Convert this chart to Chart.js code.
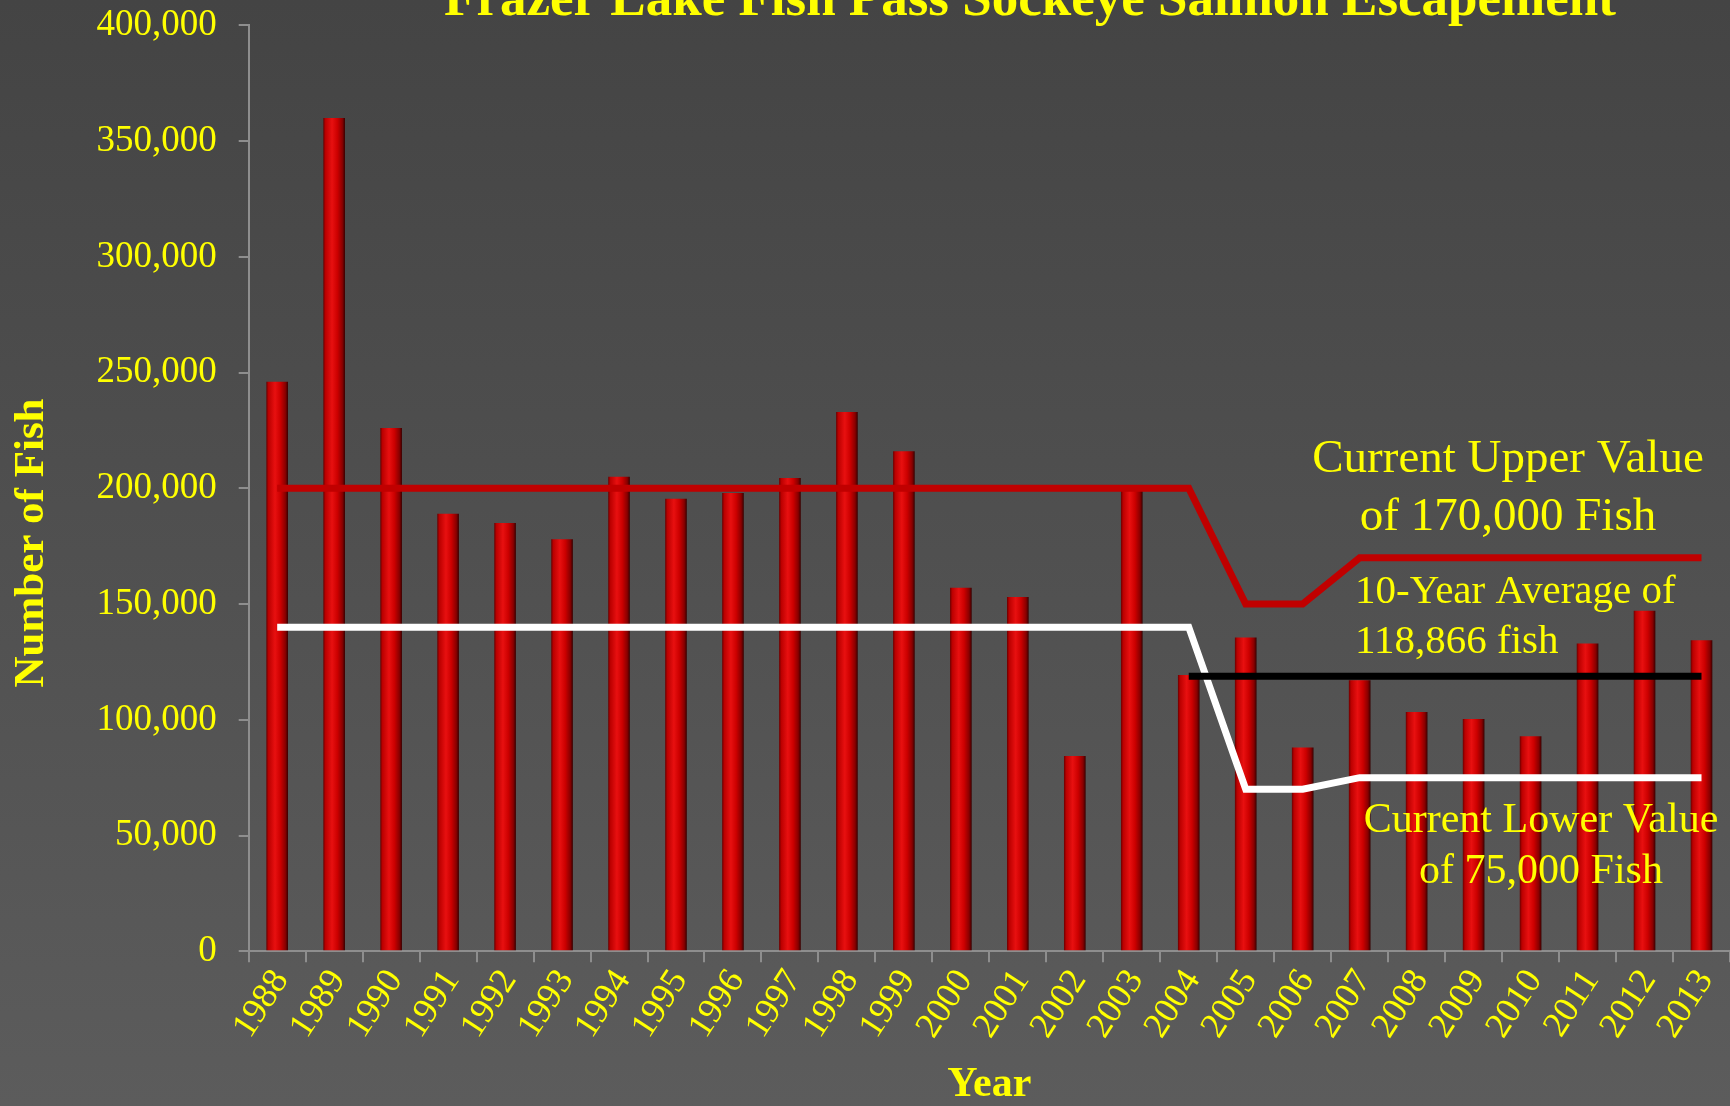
<!DOCTYPE html>
<html><head><meta charset="utf-8">
<script src="https://cdn.jsdelivr.net/npm/chart.js@4.4.1/dist/chart.umd.min.js"></script>
<style>
html,body{margin:0;padding:0;width:1730px;height:1106px;overflow:hidden;background:linear-gradient(to bottom,#444444 0%,#5c5c5c 100%);}
#wrap{position:absolute;left:0;top:0;width:1730px;height:1106px;}
canvas{display:block;}
</style></head><body>
<div id="wrap"><canvas id="c" width="1730" height="1106"></canvas></div>
<script>
const titleText = 'Frazer Lake Fish Pass Sockeye Salmon Escapement';
const yAxisTitle = 'Number of Fish';
const xAxisTitle = 'Year';
const years = ['1988','1989','1990','1991','1992','1993','1994','1995','1996','1997','1998','1999','2000','2001','2002','2003','2004','2005','2006','2007','2008','2009','2010','2011','2012','2013'];
const escapement = [246000,360000,226000,189000,185000,178000,205000,195500,198000,204500,233000,216000,157000,153000,84400,199000,119300,135600,88000,117100,103400,100300,92900,133000,147100,134400];
const upperValue = [200000,200000,200000,200000,200000,200000,200000,200000,200000,200000,200000,200000,200000,200000,200000,200000,200000,150000,150000,170000,170000,170000,170000,170000,170000,170000];
const lowerValue = [140000,140000,140000,140000,140000,140000,140000,140000,140000,140000,140000,140000,140000,140000,140000,140000,140000,70000,70000,75000,75000,75000,75000,75000,75000,75000];
const tenYearAverage = [null,null,null,null,null,null,null,null,null,null,null,null,null,null,null,null,118866,118866,118866,118866,118866,118866,118866,118866,118866,118866];
const yTickValues = [0,50000,100000,150000,200000,250000,300000,350000,400000];
const upperNote = ['Current Upper Value','of 170,000 Fish'];
const averageNote = ['10-Year Average of','118,866 fish'];
const lowerNote = ['Current Lower Value','of 75,000 Fish'];

const YELLOW = '#ffff00';
const AXIS = '#8e8e8e';
const SERIF = '"Liberation Serif", "Times New Roman", serif';
const BAR_PCT = 0.38;

function barFill(ctx) {
  const chart = ctx.chart;
  const xs = chart.scales && chart.scales.x;
  if (ctx.type !== 'data' || !xs || !xs.width) return '#c00000';
  const cx = xs.getPixelForValue(ctx.dataIndex);
  const half = xs.width / years.length * BAR_PCT / 2;
  const g = chart.ctx.createLinearGradient(cx - half, 0, cx + half, 0);
  g.addColorStop(0, '#6a0000');
  g.addColorStop(0.1, '#bb0000');
  g.addColorStop(0.4, '#e81010');
  g.addColorStop(0.65, '#cc0000');
  g.addColorStop(0.88, '#880000');
  g.addColorStop(1, '#380000');
  return g;
}

const notesPlugin = {
  id: 'notes',
  afterDraw(chart) {
    const c = chart.ctx;
    c.save();
    c.fillStyle = YELLOW;
    c.textBaseline = 'alphabetic';
    c.font = 'bold 53px ' + SERIF;
    c.textAlign = 'center';
    c.fillText(titleText, 1030, 15);
    c.save();
    c.translate(43, 543);
    c.rotate(-Math.PI / 2);
    c.font = 'bold 43px ' + SERIF;
    c.textAlign = 'center';
    c.fillText(yAxisTitle, 0, 0);
    c.restore();
    c.font = '47px ' + SERIF;
    c.textAlign = 'center';
    c.fillText(upperNote[0], 1508, 472);
    c.fillText(upperNote[1], 1508, 530);
    c.font = '41px ' + SERIF;
    c.textAlign = 'left';
    c.fillText(averageNote[0], 1355, 603);
    c.fillText(averageNote[1], 1355, 653);
    c.font = '42px ' + SERIF;
    c.textAlign = 'center';
    c.fillText(lowerNote[0], 1541, 832);
    c.fillText(lowerNote[1], 1541, 883);
    c.restore();
  }
};

new Chart(document.getElementById('c'), {
  data: {
    labels: years,
    datasets: [
      { type: 'line', label: '10-Year Average', data: tenYearAverage, borderColor: '#000000', borderWidth: 7, pointRadius: 0, tension: 0, fill: false, order: 1, spanGaps: false },
      { type: 'line', label: 'Lower Value', data: lowerValue, borderColor: '#ffffff', borderWidth: 7, pointRadius: 0, tension: 0, fill: false, order: 2 },
      { type: 'line', label: 'Upper Value', data: upperValue, borderColor: '#c00000', borderWidth: 7, pointRadius: 0, tension: 0, fill: false, order: 3 },
      { type: 'bar', label: 'Escapement', data: escapement, backgroundColor: barFill, borderWidth: 0, barPercentage: BAR_PCT, categoryPercentage: 1.0, order: 10 }
    ]
  },
  options: {
    responsive: false,
    animation: false,
    devicePixelRatio: 1,
    layout: { padding: { top: 25.3, left: 0, right: -2.8, bottom: 0 } },
    plugins: { legend: { display: false }, tooltip: { enabled: false }, title: { display: false } },
    scales: {
      x: {
        type: 'category',
        grid: { display: true, drawOnChartArea: false, drawTicks: true, tickLength: 11, color: AXIS, lineWidth: 2, offset: true },
        border: { display: true, color: AXIS, width: 2 },
        ticks: { color: YELLOW, font: { family: SERIF, size: 36 }, autoSkip: false, maxRotation: 57, minRotation: 57, padding: 0, labelOffset: 4 },
        title: { display: true, text: xAxisTitle, color: YELLOW, font: { family: SERIF, size: 42, weight: 'bold', lineHeight: 1 }, padding: { top: 0, bottom: 0 } },
        afterFit(s) { s.height = 154.7; s.paddingLeft = 0; s.paddingRight = 0; }
      },
      y: {
        min: 0, max: 400000,
        afterBuildTicks(s) { s.ticks = yTickValues.map(v => ({ value: v })); },
        grid: { display: true, drawOnChartArea: false, drawTicks: true, tickLength: 10, color: AXIS, lineWidth: 2 },
        border: { display: true, color: AXIS, width: 2 },
        ticks: { color: YELLOW, font: { family: SERIF, size: 37 }, padding: 22, callback: v => Number(v).toLocaleString('en-US') },
        afterFit(s) { s.width = 248.7; s.paddingTop = 0; s.paddingBottom = 0; }
      }
    }
  },
  plugins: [notesPlugin]
});
</script>
</body></html>
